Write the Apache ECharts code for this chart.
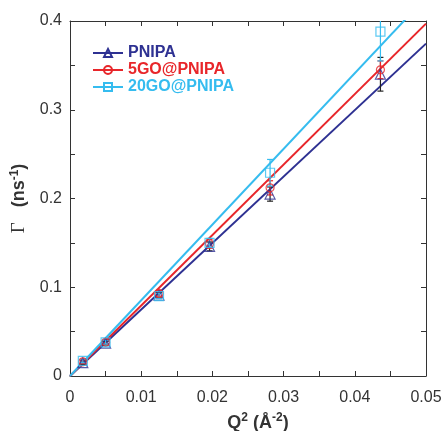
<!DOCTYPE html>
<html>
<head>
<meta charset="utf-8">
<script src="https://cdn.jsdelivr.net/npm/echarts@6/dist/echarts.min.js"></script>
<style>
  html, body { margin: 0; padding: 0; background: #fff; }
  #chart { width: 445px; height: 431px; }
</style>
</head>
<body>
<div id="chart"></div>
<script>
// Q^2 positions (Å^-2)
const q2 = [0.0018, 0.0050, 0.0125, 0.0196, 0.0281, 0.0436];

// Relaxation rates Γ (ns^-1) and their uncertainties
const pnipa      = [0.015, 0.037, 0.091, 0.146, 0.205, 0.340];
const pnipaErr   = [0.002, 0.002, 0.003, 0.005, 0.008, 0.019];
const go5        = [0.016, 0.038, 0.093, 0.149, 0.212, 0.345];
const go5Err     = [0.002, 0.002, 0.003, 0.005, 0.008, 0.010];
const go20       = [0.017, 0.038, 0.090, 0.150, 0.229, 0.388];
const go20Err    = [0.002, 0.002, 0.003, 0.005, 0.015, 0.033];

// Linear fits through the origin: Γ = D·Q^2
const fitSlopes  = [7.49, 7.94, 8.53];

const names   = ['PNIPA', '5GO@PNIPA', '20GO@PNIPA'];
const colors  = ['#2e3192', '#e8262a', '#35bcef'];
const errCols = ['#222222', '#e8262a', '#35bcef'];
const symbols = ['triangle', 'circle', 'rect'];
const symSize = [10, 8, 9];
const values  = [pnipa, go5, go20];
const errors  = [pnipaErr, go5Err, go20Err];

const X_MAX = 0.05, Y_MAX = 0.4;
const font = '"Liberation Sans", Arial, sans-serif';
const serif = '"Liberation Serif", "Times New Roman", serif';
const hollow = 'rgba(255,255,255,0)';

function ticks() {
  return { show: true, inside: true, length: 5, lineStyle: { color: '#333', width: 1 } };
}
function axisLine() {
  return { show: true, onZero: false, lineStyle: { color: '#333', width: 1 } };
}

function xLabel(v) {
  const k = Math.round(v / 0.005);
  return k % 2 === 0 ? String(+v.toFixed(2)) : '';
}
function yLabel(v) {
  const k = Math.round(v / 0.05);
  return k % 2 === 0 ? String(+v.toFixed(1)) : '';
}

const series = [];

// fitted lines (listed first so the legend picks up their line + marker icon)
names.forEach((n, i) => {
  series.push({
    name: n,
    type: 'line',
    data: [[0, 0], [X_MAX, fitSlopes[i] * X_MAX]],
    showSymbol: false,
    symbol: symbols[i],
    symbolSize: symSize[i],
    clip: true,
    lineStyle: { color: colors[i], width: 2 },
    itemStyle: { color: hollow, borderColor: colors[i], borderWidth: 1.2 },
    color: colors[i],
    z: 2,
    silent: true
  });
});

// error bars
names.forEach((n, i) => {
  series.push({
    name: n,
    type: 'custom',
    data: q2.map((x, j) => [x, values[i][j] - errors[i][j], values[i][j] + errors[i][j]]),
    clip: true,
    renderItem: function (params, api) {
      const lo = api.coord([api.value(0), api.value(1)]);
      const hi = api.coord([api.value(0), api.value(2)]);
      const cap = 3;
      const st = { stroke: errCols[i], lineWidth: 1.2 };
      return {
        type: 'group',
        children: [
          { type: 'line', shape: { x1: lo[0], y1: lo[1], x2: hi[0], y2: hi[1] }, style: st },
          { type: 'line', shape: { x1: lo[0] - cap, y1: lo[1], x2: lo[0] + cap, y2: lo[1] }, style: st },
          { type: 'line', shape: { x1: hi[0] - cap, y1: hi[1], x2: hi[0] + cap, y2: hi[1] }, style: st }
        ]
      };
    },
    z: 3,
    silent: true
  });
});

// measured points
names.forEach((n, i) => {
  series.push({
    name: n,
    type: 'scatter',
    data: q2.map((x, j) => [x, values[i][j]]),
    symbol: symbols[i],
    symbolSize: symSize[i],
    itemStyle: { color: hollow, borderColor: colors[i], borderWidth: 1.2 },
    z: 4,
    silent: true
  });
});

const option = {
  animation: false,
  backgroundColor: '#fff',
  grid: { left: 70, right: 19, top: 21, bottom: 55, containLabel: false, outerBoundsMode: 'none' },
  legend: {
    orient: 'vertical',
    left: 87,
    top: 40,
    itemWidth: 30,
    itemHeight: 10,
    itemGap: 1,
    data: names.map((n, i) => ({
      name: n,
      textStyle: { color: colors[i], fontWeight: 'bold', fontSize: 16, fontFamily: font }
    })),
    selectedMode: false
  },
  xAxis: [
    {
      type: 'value', min: 0, max: X_MAX, interval: 0.005,
      axisLine: axisLine(), axisTick: ticks(), splitLine: { show: false },
      axisLabel: { formatter: xLabel, color: '#333', fontSize: 16, fontFamily: font, margin: 14 },
      name: '{b|Q}{sup|2}{b| (Å}{sup|-2}{b|)}',
      nameLocation: 'middle',
      nameGap: 36,
      nameTextStyle: {
        padding: [0, 0, 0, 20],
        rich: {
          b: { fontSize: 18, fontWeight: 'bold', fontFamily: font, color: '#333', lineHeight: 22 },
          sup: { fontSize: 12, fontWeight: 'bold', fontFamily: font, color: '#333', verticalAlign: 'top', lineHeight: 22, padding: [0, 0, 7, 0] }
        }
      }
    },
    {
      type: 'value', position: 'top', min: 0, max: X_MAX, interval: 0.005,
      axisLine: axisLine(), axisTick: ticks(), axisLabel: { show: false }, splitLine: { show: false }
    }
  ],
  yAxis: [
    {
      type: 'value', min: 0, max: Y_MAX, interval: 0.05,
      axisLine: axisLine(), axisTick: ticks(), splitLine: { show: false },
      axisLabel: { formatter: yLabel, color: '#333', fontSize: 16, fontFamily: font, margin: 8 },
      name: '{g|Γ}{b|   (ns}{sup|-1}{b|)}',
      nameLocation: 'middle',
      nameGap: 37,
      nameTextStyle: {
        rich: {
          g: { fontSize: 19, fontFamily: serif, color: '#333', lineHeight: 22 },
          b: { fontSize: 18, fontWeight: 'bold', fontFamily: font, color: '#333', lineHeight: 22 },
          sup: { fontSize: 12, fontWeight: 'bold', fontFamily: font, color: '#333', verticalAlign: 'top', lineHeight: 22, padding: [0, 0, 7, 0] }
        }
      }
    },
    {
      type: 'value', position: 'right', min: 0, max: Y_MAX, interval: 0.05,
      axisLine: axisLine(), axisTick: ticks(), axisLabel: { show: false }, splitLine: { show: false }
    }
  ],
  series: series
};

const chart = echarts.init(document.getElementById('chart'), null, { renderer: 'canvas' });
chart.setOption(option);
</script>
</body>
</html>
